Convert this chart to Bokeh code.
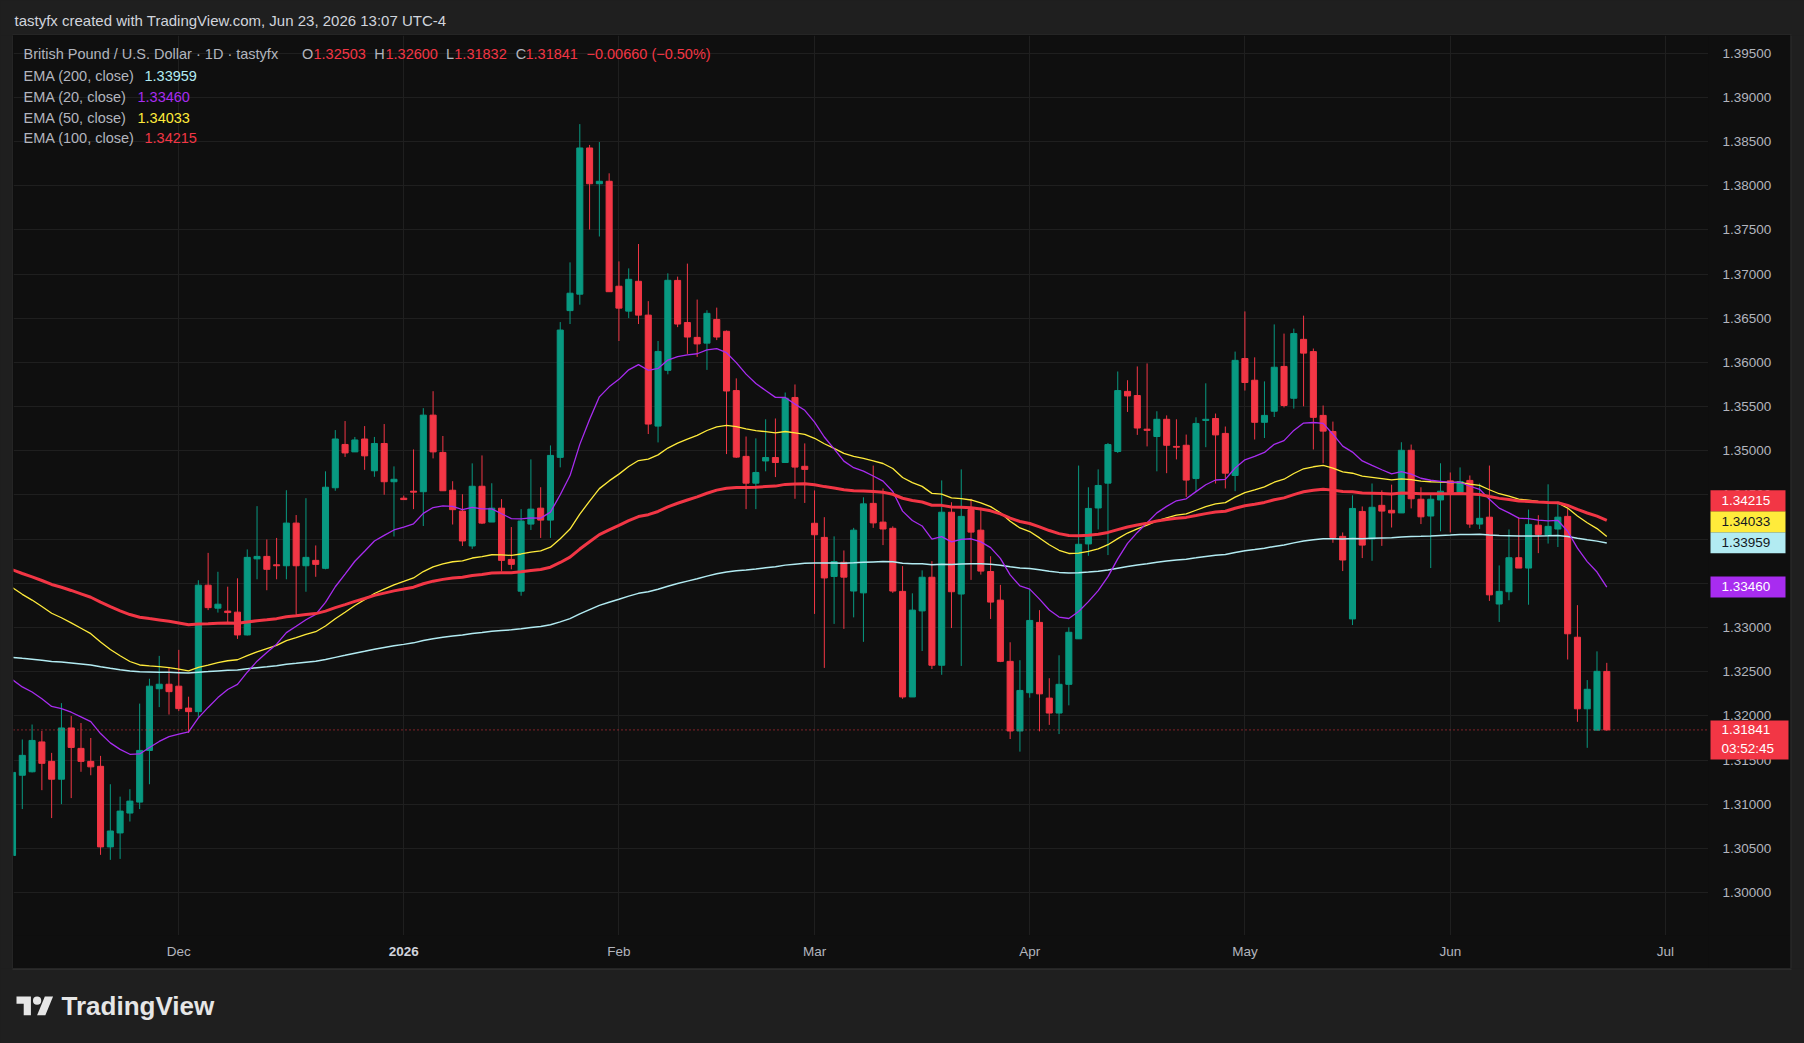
from bokeh.plotting import figure
from bokeh.models import Range1d, FixedTicker, Label, Span, ColumnDataSource, Grid
from bokeh.layouts import column, row
from bokeh.embed import file_html
from bokeh.resources import INLINE
from bokeh.core.properties import value

# ---------------- data (GBP/USD daily, bar index 0 = 1 Dec 2025) ----------------
first_bar = -17
opens = [
    1.3042, 1.31328, 1.31367, 1.31705, 1.31485, 1.31283, 1.31863, 1.31632, 1.31485, 1.31429,
    1.30517, 1.30675, 1.30900, 1.31024, 1.31609, 1.32307, 1.32358,
    1.32336, 1.32088, 1.32048, 1.33479, 1.33219, 1.33186, 1.33174, 1.32916, 1.33777, 1.33805,
    1.33710, 1.33699, 1.34182, 1.33699, 1.33760, 1.33670, 1.34582, 1.35072, 1.34988, 1.35134,
    1.34774, 1.35083, 1.34650, 1.34464, 1.34543, 1.34537, 1.35404, 1.34982, 1.34554, 1.34318,
    1.33923, 1.34599, 1.34194, 1.34351, 1.33771, 1.33411, 1.34171, 1.34351, 1.34216, 1.34926,
    1.36587, 1.36773, 1.38428, 1.38023, 1.38051, 1.36863, 1.36581, 1.36919, 1.36536, 1.35280,
    1.35911, 1.36929, 1.36452, 1.36284, 1.36219, 1.36487, 1.36353, 1.35682, 1.34937, 1.34634,
    1.34885, 1.34924, 1.34868, 1.35604, 1.34825, 1.34180, 1.34020, 1.33578, 1.33738, 1.33413,
    1.33392, 1.34405, 1.34193, 1.34123, 1.33409, 1.32214, 1.33188, 1.33569, 1.32573, 1.34305,
    1.33379, 1.34335, 1.34102, 1.33634, 1.33310, 1.32617, 1.31829, 1.32262, 1.33058, 1.32201,
    1.32032, 1.32357, 1.32872, 1.33946, 1.34353, 1.34634, 1.34993, 1.35673, 1.35626, 1.35245,
    1.35162, 1.35357, 1.35050, 1.35063, 1.34686, 1.35344, 1.35366, 1.35197, 1.34721, 1.36045,
    1.35799, 1.35323, 1.35448, 1.35955, 1.35595, 1.36262, 1.36123, 1.35401, 1.35219, 1.34032,
    1.33097, 1.34314, 1.34002, 1.34383, 1.34327, 1.34297, 1.35006, 1.34452, 1.34262, 1.34444,
    1.34660, 1.34530, 1.34665, 1.34171, 1.34249, 1.33266, 1.33405, 1.33790, 1.33673, 1.34158,
    1.34045, 1.34115, 1.34258, 1.32890, 1.32080, 1.31838, 1.32503]
highs = [
    1.3140, 1.31733, 1.31902, 1.31829, 1.31581, 1.32144, 1.31998, 1.31919, 1.31750, 1.31547,
    1.31226, 1.31086, 1.31170, 1.32139, 1.32420, 1.32679, 1.32550,
    1.32747, 1.32217, 1.33535, 1.33845, 1.33631, 1.33462, 1.33557, 1.33884, 1.34374, 1.33997,
    1.34014, 1.34554, 1.34273, 1.34464, 1.33929, 1.34768, 1.35235, 1.35337, 1.35157, 1.35280,
    1.35157, 1.35303, 1.34824, 1.34493, 1.35016, 1.35483, 1.35675, 1.35168, 1.34656, 1.34509,
    1.34858, 1.34948, 1.34633, 1.34453, 1.34137, 1.34340, 1.34903, 1.34588, 1.35061, 1.36457,
    1.37133, 1.38698, 1.38462, 1.38495, 1.38141, 1.37144, 1.37065, 1.37341, 1.36694, 1.36243,
    1.37009, 1.36972, 1.37119, 1.36712, 1.36591, 1.36621, 1.36362, 1.35820, 1.35162, 1.35141,
    1.35357, 1.35366, 1.35660, 1.35751, 1.35084, 1.34552, 1.34249, 1.34032, 1.33872, 1.34128,
    1.34474, 1.34833, 1.34574, 1.34145, 1.33695, 1.33387, 1.33647, 1.33751, 1.34665, 1.34418,
    1.34790, 1.34457, 1.34357, 1.33807, 1.33483, 1.32833, 1.32630, 1.33439, 1.33197, 1.32426,
    1.32686, 1.33002, 1.34833, 1.34587, 1.34790, 1.35089, 1.35898, 1.35799, 1.35955, 1.35989,
    1.35448, 1.35401, 1.35357, 1.35184, 1.35379, 1.35764, 1.35422, 1.35275, 1.36123, 1.36578,
    1.36058, 1.35786, 1.36431, 1.36327, 1.36383, 1.36530, 1.36158, 1.35513, 1.35331, 1.34076,
    1.34496, 1.34370, 1.34630, 1.34552, 1.34617, 1.35097, 1.35071, 1.34587, 1.34517, 1.34859,
    1.34755, 1.34812, 1.34721, 1.34630, 1.34833, 1.33703, 1.34110, 1.34249, 1.34335, 1.34271,
    1.34621, 1.34426, 1.34348, 1.33253, 1.32405, 1.32730, 1.32600]
lows = [
    1.3038, 1.30945, 1.31360, 1.31159, 1.30843, 1.31001, 1.31069, 1.31367, 1.31328, 1.30427,
    1.30370, 1.30381, 1.30804, 1.30945, 1.31226, 1.32099, 1.32015,
    1.32054, 1.31806, 1.31986, 1.33197, 1.33169, 1.33056, 1.32871, 1.32910, 1.33546, 1.33422,
    1.33546, 1.33546, 1.33124, 1.33405, 1.33574, 1.33659, 1.34548, 1.34931, 1.34988, 1.34785,
    1.34706, 1.34503, 1.34030, 1.34448, 1.34340, 1.34149, 1.34914, 1.34548, 1.34166, 1.33923,
    1.33890, 1.34171, 1.34194, 1.33636, 1.33659, 1.33360, 1.34104, 1.34014, 1.34014, 1.34813,
    1.36435, 1.36654, 1.37505, 1.37426, 1.36801, 1.36243, 1.36502, 1.36435, 1.35190, 1.35095,
    1.35866, 1.36400, 1.36097, 1.36063, 1.35916, 1.36253, 1.34963, 1.34920, 1.34340, 1.34340,
    1.34768, 1.34703, 1.34868, 1.34457, 1.34410, 1.33154, 1.32543, 1.33041, 1.32985, 1.33115,
    1.32838, 1.34128, 1.33933, 1.33392, 1.32193, 1.32214, 1.32734, 1.32530, 1.32465, 1.32994,
    1.32565, 1.33539, 1.33599, 1.33097, 1.32608, 1.31738, 1.31595, 1.32206, 1.31825, 1.31898,
    1.31794, 1.32119, 1.32872, 1.33812, 1.34110, 1.33820, 1.34976, 1.35440, 1.35180, 1.35050,
    1.34768, 1.34747, 1.34903, 1.34478, 1.34543, 1.35041, 1.34630, 1.34574, 1.34543, 1.35682,
    1.35128, 1.35145, 1.35383, 1.35491, 1.35478, 1.35504, 1.35015, 1.34859, 1.33959, 1.33639,
    1.33028, 1.33786, 1.33755, 1.33924, 1.34132, 1.34297, 1.34348, 1.34171, 1.33673, 1.34089,
    1.34076, 1.34500, 1.34128, 1.34115, 1.33301, 1.33063, 1.33309, 1.33673, 1.33258, 1.33842,
    1.33950, 1.33911, 1.32638, 1.31933, 1.31638, 1.31838, 1.31832]
closes = [
    1.3136, 1.31553, 1.31722, 1.31463, 1.31283, 1.31863, 1.31643, 1.31485, 1.31423, 1.30517,
    1.30697, 1.30922, 1.31035, 1.31609, 1.32336, 1.32358, 1.32274,
    1.32082, 1.32048, 1.33479, 1.33225, 1.33264, 1.33169, 1.32916, 1.33794, 1.33805, 1.33659,
    1.33699, 1.34182, 1.33699, 1.33794, 1.33715, 1.34588, 1.35134, 1.34976, 1.35123, 1.34943,
    1.35083, 1.34650, 1.34678, 1.34448, 1.34532, 1.35404, 1.34988, 1.34548, 1.34334, 1.33980,
    1.34599, 1.34182, 1.34351, 1.33760, 1.33715, 1.34205, 1.34340, 1.34216, 1.34948, 1.36367,
    1.36784, 1.38428, 1.38023, 1.38051, 1.36801, 1.36615, 1.36941, 1.36536, 1.35303, 1.36125,
    1.36930, 1.36435, 1.36288, 1.36210, 1.36556, 1.36288, 1.35677, 1.34929, 1.34634, 1.34755,
    1.34924, 1.34868, 1.35595, 1.34816, 1.34790, 1.34050, 1.33561, 1.33747, 1.33570, 1.34102,
    1.34400, 1.34184, 1.34115, 1.33413, 1.32214, 1.33197, 1.33569, 1.32573, 1.34305, 1.33405,
    1.34258, 1.34080, 1.33639, 1.33288, 1.32617, 1.31829, 1.32288, 1.33080, 1.32249, 1.32032,
    1.32357, 1.32946, 1.33942, 1.34348, 1.34608, 1.35071, 1.35682, 1.35621, 1.35258, 1.35232,
    1.35357, 1.35063, 1.35041, 1.34669, 1.35310, 1.35357, 1.35180, 1.34747, 1.36024, 1.35773,
    1.35323, 1.35401, 1.35946, 1.35513, 1.36327, 1.36106, 1.35379, 1.35223, 1.34019, 1.33764,
    1.34348, 1.33933, 1.34361, 1.34318, 1.34297, 1.35006, 1.34457, 1.34253, 1.34452, 1.34543,
    1.34530, 1.34652, 1.34171, 1.34236, 1.33370, 1.33409, 1.33790, 1.33673, 1.34167, 1.34054,
    1.34145, 1.34249, 1.32929, 1.32080, 1.32301, 1.32504, 1.31841]

# EMA values at the first visible bar and as shown in the legend
ema_periods = [200, 20, 50, 100]
ema_start = {200: 1.32662, 20: 1.32409, 50: 1.33450, 100: 1.33653}
ema_last = {200: "1.33959", 20: "1.33460", 50: "1.34033", 100: "1.34215"}
ema_colors = {200: "#B2EBF2", 20: "#A82CF0", 50: "#FFEB3B", 100: "#F23645"}
ema_widths = {200: 1.5, 20: 1.3, 50: 1.3, 100: 3}

month_ticks = [0, 23, 45, 65, 87, 109, 130, 152]
month_labels = ["Dec", "2026", "Feb", "Mar", "Apr", "May", "Jun", "Jul"]
price_ticks = [1.300, 1.305, 1.310, 1.315, 1.320, 1.325, 1.330, 1.335, 1.340, 1.345,
               1.350, 1.355, 1.360, 1.365, 1.370, 1.375, 1.380, 1.385, 1.390, 1.395]

header_text = "tastyfx created with TradingView.com, Jun 23, 2026 13:07 UTC-4"
symbol_text = "British Pound / U.S. Dollar \u00b7 1D \u00b7 tastyfx"
ohlc_text = [("O", "1.32503"), ("H", "1.32600"), ("L", "1.31832"), ("C", "1.31841")]
change_text = "\u22120.00660 (\u22120.50%)"
countdown = "03:52:45"

# ---------------- styling ----------------
FONT = "Liberation Sans"
UP, DOWN = "#089981", "#F23645"
PANEL, OUTER, EDGE = "#0f0f0f", "#1f1f1f", "#2c2c2c"
GRID = "#1f1f1f"
TXT = "#b2b5be"

xs = list(range(first_bar, first_bar + len(closes)))
colors = [UP if c >= o else DOWN for o, c in zip(opens, closes)]
src = ColumnDataSource(dict(
    x=xs, high=highs, low=lows, color=colors,
    top=[max(o, c) for o, c in zip(opens, closes)],
    bottom=[min(o, c) for o, c in zip(opens, closes)],
))


def ema(values, n, seed):
    a = 2.0 / (n + 1)
    out = [seed]
    for v in values[1:]:
        out.append(out[-1] + a * (v - out[-1]))
    return out


def panel(w, h, xr, yr, bg):
    f = figure(width=w, height=h, x_range=xr, y_range=yr, output_backend="svg",
               toolbar_location=None, x_axis_type=None, y_axis_type=None, min_border=0,
               background_fill_color=bg, border_fill_color=bg, outline_line_color=None,
               styles={"background-color": bg})
    f.grid.visible = False
    return f


FRAME_W, FRAME_H, AX_H, SCALE_W = 1695, 900, 33, 82
xr = Range1d(-16.9, 156.4)
yr = Range1d(1.29514, 1.39701)

# ---------------- main price pane ----------------
p = panel(FRAME_W, FRAME_H, xr, yr, PANEL)
p.add_layout(Grid(dimension=0, ticker=FixedTicker(ticks=month_ticks), grid_line_color=GRID))
p.add_layout(Grid(dimension=1, ticker=FixedTicker(ticks=price_ticks), grid_line_color=GRID))

p.segment(x0="x", y0="low", x1="x", y1="high", line_color="color", line_width=1, source=src)
p.vbar(x="x", top="top", bottom="bottom", width=0.62, fill_color="color",
       line_color="color", line_width=1, source=src)

for n in [200, 50, 20, 100]:
    p.line(xs, ema(closes, n, ema_start[n]), line_color=ema_colors[n],
           line_width=ema_widths[n])

p.add_layout(Span(location=closes[-1], dimension="width", line_color=DOWN,
                  line_dash="1 3", line_width=1))

LEG = "14.5px"


def lab(x, ytop, text, color, size=LEG):
    p.add_layout(Label(x=x - 13, y=FRAME_H - (ytop - 35), x_units="screen", y_units="screen",
                       text=text, text_color=color, text_font=FONT, text_font_size=size,
                       text_baseline="middle"))


lab(23, 53.3, symbol_text, TXT)
ohlc_x = [(301.5, 313.0), (373.7, 385.0), (445.5, 453.8), (515.3, 525.0)]
for (k, v), (xk, xv) in zip(ohlc_text, ohlc_x):
    lab(xk, 53.3, k, TXT)
    lab(xv, 53.3, v, DOWN)
lab(586, 53.3, change_text, DOWN)

rows_y = [75, 96, 117.3, 137.7]
val_x = {200: 144, 20: 137, 50: 137, 100: 144}
for n, yy in zip(ema_periods, rows_y):
    lab(23, yy, "EMA (%d, close)" % n, TXT)
    lab(val_x[n], yy, ema_last[n], ema_colors[n])

# ---------------- time scale (shares the x range) ----------------
ts = panel(FRAME_W, AX_H, xr, Range1d(AX_H, 0), PANEL)
is_year = [lab_.isdigit() for lab_ in month_labels]
ts.text(x=[t for t, yflag in zip(month_ticks, is_year) if not yflag], y=16,
        text=[l for l, yflag in zip(month_labels, is_year) if not yflag],
        text_color=TXT, text_font=value(FONT), text_font_size=value("13.5px"),
        text_baseline="middle", text_align="center")
ts.text(x=[t for t, yflag in zip(month_ticks, is_year) if yflag], y=16,
        text=[l for l, yflag in zip(month_labels, is_year) if yflag],
        text_color="#d1d4dc", text_font=value(FONT), text_font_size=value("13.5px"),
        text_font_style="bold", text_baseline="middle", text_align="center")

# ---------------- price scale (shares the y range) ----------------
ps = panel(SCALE_W, FRAME_H, Range1d(0, SCALE_W), yr, PANEL)
ps.text(x=[14] * len(price_ticks), y=price_ticks, text=["%.5f" % t for t in price_ticks],
        text_color=TXT, text_font=value(FONT), text_font_size=value("13.5px"),
        text_baseline="middle", text_align="left")

PX = (yr.end - yr.start) / FRAME_H          # price per screen pixel
half = 10.5 * PX
badge_y = {200: float(ema_last[200])}
badge_y[50] = badge_y[200] + 2 * half
badge_y[100] = badge_y[50] + 2 * half
badge_y[20] = float(ema_last[20])
badge_txt = {200: "#131722", 50: "#131722", 100: "#ffffff", 20: "#ffffff"}
order = [200, 50, 100, 20]
ps.quad(left=[2] * 4, right=[77] * 4,
        top=[badge_y[n] + half for n in order], bottom=[badge_y[n] - half for n in order],
        fill_color=[ema_colors[n] for n in order], line_color=None)
ps.text(x=[13] * 4, y=[badge_y[n] for n in order], text=[ema_last[n] for n in order],
        text_color=[badge_txt[n] for n in order], text_font=value(FONT),
        text_font_size=value("13.5px"), text_baseline="middle", text_align="left")

last = closes[-1]
ps.quad(left=[2], right=[80], top=[last + 9.5 * PX], bottom=[last - 29.5 * PX],
        fill_color=DOWN, line_color=None)
ps.text(x=[13, 13], y=[last, last - 19 * PX], text=["%.5f" % last, countdown],
        text_color="#ffffff", text_font=value(FONT), text_font_size=value("13.5px"),
        text_baseline="middle", text_align="left")

corner = panel(SCALE_W, AX_H, Range1d(0, SCALE_W), Range1d(AX_H, 0), PANEL)


# ---------------- surrounding frame ----------------
def blank(w, h):
    return panel(w, h, Range1d(0, w), Range1d(h, 0), OUTER)


header = blank(1804, 35)
header.add_layout(Label(x=14, y=19.5, text=header_text, text_color="#d1d4dc",
                        text_font=FONT, text_font_size="15px", text_baseline="middle"))
header.segment(x0=[12], y0=[34.5], x1=[1791], y1=[34.5], line_color=EDGE, line_width=1)

footer = blank(1804, 75)
footer.segment(x0=[12], y0=[0.5], x1=[1791], y1=[0.5], line_color=EDGE, line_width=2)
s = 1.03
logo_a = [(0, 4), (14, 4), (14, 22), (7, 22), (7, 11), (0, 11)]
logo_b = [(20, 22), (27.5, 4), (35.5, 4), (28, 22)]
for poly in (logo_a, logo_b):
    footer.patch([16 + u * s for u, v in poly], [24 + v * s for u, v in poly],
                 fill_color="#e6e6e6", line_color=None)
footer.circle([16 + 20 * s], [24 + 8 * s], radius=4 * s, fill_color="#e6e6e6", line_color=None)
footer.add_layout(Label(x=61, y=37.5, text="TradingView", text_color="#e6e6e6",
                        text_font=FONT, text_font_size="26px", text_font_style="bold",
                        text_baseline="middle"))

H_MID = FRAME_H + AX_H
lpad = blank(13, H_MID)
lpad.segment(x0=[12.5], y0=[0], x1=[12.5], y1=[H_MID], line_color=EDGE, line_width=1)
rpad = blank(14, H_MID)
rpad.segment(x0=[0.5], y0=[0], x1=[0.5], y1=[H_MID], line_color=EDGE, line_width=1)

middle = column(row(p, ps, styles={"background-color": PANEL}),
                row(ts, corner, styles={"background-color": PANEL}),
                styles={"background-color": PANEL})
layout = column(header, row(lpad, middle, rpad, styles={"background-color": OUTER}), footer,
                styles={"background-color": OUTER})
open("out.html", "w").write(file_html(layout, INLINE))
